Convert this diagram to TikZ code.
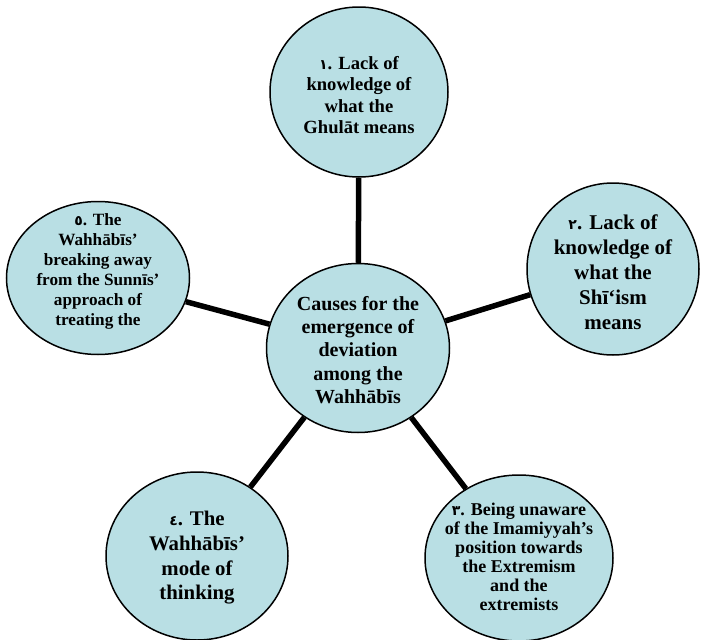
\documentclass[tikz,border=0pt]{standalone}
\usepackage{fontspec}
\setmainfont{Liberation Serif}
\newfontfamily\arabicfont[Script=Arabic]{DejaVu Sans}
\usetikzlibrary{shapes.geometric}
\definecolor{bubble}{RGB}{185,223,228}
\newcommand{\ad}[1]{{\arabicfont\fontsize{14}{14}\selectfont #1}}
\tikzset{
  bubble/.style={ellipse, draw=black, line width=1.5pt, fill=bubble, inner sep=0pt},
  txt/.style={align=center, font=\bfseries, inner sep=0pt},
  spoke/.style={line width=5.5pt, line cap=butt},
}
\begin{document}
\begin{tikzpicture}[x=1pt,y=-1pt]
\useasboundingbox (0,0) rectangle (702,640);
% bubbles
\node[bubble, minimum width=178pt, minimum height=170pt] (n1) at (359,92) {};
\node[bubble, minimum width=172pt, minimum height=172pt] (n2) at (613,269) {};
\node[bubble, minimum width=188pt, minimum height=166pt] (n3) at (519,558) {};
\node[bubble, minimum width=182pt, minimum height=168pt] (n4) at (197,556) {};
\node[bubble, minimum width=183pt, minimum height=153pt] (n5) at (98,278) {};
\node[bubble, minimum width=183pt, minimum height=169pt] (c) at (358,348) {};
% spokes
\draw[spoke] (c) -- (n1);
\draw[spoke] (c) -- (n2);
\draw[spoke] (c) -- (n3);
\draw[spoke] (c) -- (n4);
\draw[spoke] (c) -- (n5);
% texts
\node[txt, font=\bfseries\fontsize{18.6}{21.3}\selectfont] (t1) at (359,95)
  {\ad{١}. Lack of\\knowledge of\\what the\\Ghulāt means};
\node[txt, font=\bfseries\fontsize{21}{25}\selectfont] (t2) at (613,272)
  {\ad{٢}. Lack of\\knowledge of\\what the\\Shī‘ism\\means};
\node[txt, font=\bfseries\fontsize{18}{19}\selectfont] (t3) at (519,557)
  {\ad{٣}. Being unaware\\of the Imamiyyah’s\\position towards\\the Extremism\\and the\\extremists};
\node[txt, font=\bfseries\fontsize{20.8}{24.7}\selectfont] (t4) at (197,558)
  {\ad{٤}. The\\Wahhābīs’\\mode of\\thinking};
\node[txt, font=\bfseries\fontsize{17.2}{20}\selectfont] (t5) at (98,271)
  {\ad{٥}. The\\Wahhābīs’\\breaking away\\from the Sunnīs’\\approach of\\treating the};
\node[txt, font=\bfseries\fontsize{20}{23.3}\selectfont] (tc) at (358,350)
  {Causes for the\\emergence of\\deviation\\among the\\Wahhābīs};
\end{tikzpicture}
\end{document}
